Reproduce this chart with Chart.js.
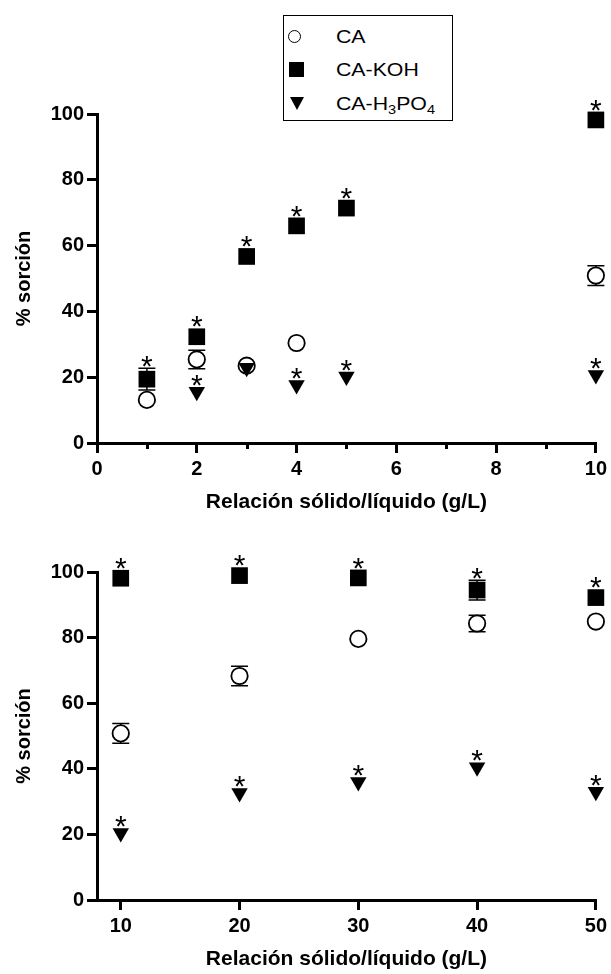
<!DOCTYPE html>
<html>
<head>
<meta charset="utf-8">
<script src="https://cdn.jsdelivr.net/npm/chart.js@4.4.0/dist/chart.umd.min.js"></script>
<style>
  body { margin: 0; background: #fff; }
  #wrap { position: relative; width: 611px; height: 974px; overflow: hidden; font-family: "Liberation Sans", Arial, sans-serif; }
  #top { position: absolute; left: 0; top: 0; }
  #bottom { position: absolute; left: 0; top: 520px; }
  #legend { position: absolute; left: 283px; top: 15px; width: 170px; height: 106px; box-sizing: border-box; border: 1.5px solid #000; background: #fff; }
  .mk { position: absolute; box-sizing: border-box; }
  .circ { width: 13px; height: 13px; border: 1.5px solid #000; border-radius: 50%; background: #fff; }
  .sq { width: 15px; height: 15px; background: #000; }
  .tri { width: 0; height: 0; border-left: 7px solid transparent; border-right: 7px solid transparent; border-top: 13px solid #000; }
  .lbl { position: absolute; font-size: 19px; line-height: 19px; color: #000; white-space: nowrap; transform: scaleX(1.12); transform-origin: left center; }
  .lbl sub { font-size: 13px; vertical-align: -4px; line-height: 0; }
</style>
</head>
<body>
<div id="wrap">
  <canvas id="top" width="611" height="520"></canvas>
  <canvas id="bottom" width="611" height="454"></canvas>
  <div id="legend"></div>
</div>
<script>
const FONT = '"Liberation Sans", Arial, sans-serif';

// Panel 1: 0 - 10 g/L
const xTop = [1, 2, 3, 4, 5, 10];
const caTop = [13.1, 25.4, 23.5, 30.4, null, 50.9];
const caTopErr = [0, 2.8, 0, 0, 0, 3.0];
const kohTop = [19.4, 32.3, 56.7, 66.0, 71.4, 98.2];
const kohTopErr = [3.3, 0, 0, 0, 0, 0];
const h3poTop = [null, 15.6, 22.9, 17.6, 20.2, 20.7];
const kohTopStar = [1, 1, 1, 1, 1, 1];
const h3poTopStar = [0, 1, 0, 1, 1, 1];
const xTopTicks = [0, 2, 4, 6, 8, 10];
const xTopMinor = [1, 3, 5, 7, 9];

// Panel 2: 10 - 50 g/L
const xBot = [10, 20, 30, 40, 50];
const caBot = [50.8, 68.3, 79.6, 84.3, 84.9];
const caBotErr = [3.0, 3.0, 0, 2.5, 0];
const kohBot = [98.1, 98.9, 98.2, 94.5, 92.2];
const kohBotErr = [0, 0, 0, 3.0, 0];
const h3poBot = [20.4, 32.6, 36.0, 40.5, 33.0];
const kohBotStar = [1, 1, 1, 1, 1];
const h3poBotStar = [1, 1, 1, 1, 1];
const xBotTicks = [10, 20, 30, 40, 50];

const yTicks = [0, 20, 40, 60, 80, 100];
const yTitle = '% sorción';
const xTitle = 'Relación sólido/líquido (g/L)';

function pts(xs, ys) {
    return xs.map((x, i) => ({ x: x, y: ys[i] }));
}

// error bars under the markers, asterisks over them, minor ticks on the axis
const marks = {
    id: 'marks',
    beforeDatasetsDraw(chart) {
        const ctx = chart.ctx, ys = chart.scales.y;
        ctx.save();
        ctx.strokeStyle = '#000';
        ctx.lineWidth = 1.5;
        chart.data.datasets.forEach((ds, i) => {
            if (!ds.err) return;
            chart.getDatasetMeta(i).data.forEach((pt, j) => {
                const v = ds.data[j].y, e = ds.err[j];
                if (v == null || !e) return;
                const y1 = ys.getPixelForValue(v + e), y2 = ys.getPixelForValue(v - e);
                ctx.beginPath();
                ctx.moveTo(pt.x, y1); ctx.lineTo(pt.x, y2);
                ctx.moveTo(pt.x - 8.5, y1); ctx.lineTo(pt.x + 8.5, y1);
                ctx.moveTo(pt.x - 8.5, y2); ctx.lineTo(pt.x + 8.5, y2);
                ctx.stroke();
            });
        });
        ctx.restore();
    },
    afterDatasetsDraw(chart) {
        const ctx = chart.ctx, ys = chart.scales.y;
        ctx.save();
        ctx.fillStyle = '#000';
        ctx.font = '30px ' + FONT;
        ctx.textAlign = 'center';
        ctx.textBaseline = 'alphabetic';
        const m = ctx.measureText('*');
        const off = (m.actualBoundingBoxAscent - m.actualBoundingBoxDescent) / 2;
        chart.data.datasets.forEach((ds, i) => {
            if (!ds.star) return;
            chart.getDatasetMeta(i).data.forEach((pt, j) => {
                const v = ds.data[j].y;
                if (v == null || !ds.star[j]) return;
                let top = ds.markTop;
                if (ds.err && ds.err[j]) {
                    top = Math.max(top, pt.y - ys.getPixelForValue(v + ds.err[j]));
                }
                const cy = pt.y - top - 6.5;
                ctx.fillText('*', pt.x, cy + off);
            });
        });
        ctx.restore();
    },
    afterDraw(chart, args, opts) {
        if (!opts.minor) return;
        const ctx = chart.ctx, xs = chart.scales.x;
        const y0 = chart.chartArea.bottom;
        ctx.save();
        ctx.strokeStyle = '#000';
        ctx.lineWidth = 3;
        opts.minor.forEach(v => {
            const px = Math.round(xs.getPixelForValue(v)) + 0.5;
            ctx.beginPath();
            ctx.moveTo(px, y0);
            ctx.lineTo(px, y0 + 6);
            ctx.stroke();
        });
        ctx.restore();
    }
};

function datasets(xs, ca, caErr, koh, kohErr, kohStar, h3, h3Star) {
    return [
        {
            label: 'CA', data: pts(xs, ca), err: caErr, order: 3, clip: false,
            pointStyle: 'circle', pointRadius: 8.2, pointBorderWidth: 1.8,
            pointBackgroundColor: '#fff', pointBorderColor: '#000', markTop: 9
        },
        {
            label: 'CA-KOH', data: pts(xs, koh), err: kohErr, star: kohStar, order: 2, clip: false,
            pointStyle: 'rect', pointRadius: 11.8, pointBorderWidth: 0,
            pointBackgroundColor: '#000', pointBorderColor: '#000', markTop: 8.3
        },
        {
            label: 'CA-H3PO4', data: pts(xs, h3), star: h3Star, order: 1, clip: false,
            pointStyle: 'triangle', pointRotation: 180, pointRadius: 9.5, pointBorderWidth: 0,
            pointBackgroundColor: '#000', pointBorderColor: '#000', markTop: 4.8
        }
    ];
}

function scales(xMin, xMax, xTicks, xAxisH, titlePad) {
    const tickFont = { family: FONT, size: 20, weight: 'bold' };
    return {
        x: {
            type: 'linear', position: 'bottom', min: xMin, max: xMax,
            afterBuildTicks: s => { s.ticks = xTicks.map(v => ({ value: v })); },
            afterFit: s => { s.height = xAxisH; },
            grid: { drawOnChartArea: false, tickLength: 10, lineWidth: 3, color: '#000' },
            border: { width: 3, color: '#000' },
            ticks: { color: '#000', padding: 4, maxRotation: 0, autoSkip: false, font: tickFont },
            title: { display: true, text: xTitle, color: '#000', padding: { bottom: titlePad },
                     font: { family: FONT, size: 21, weight: 'bold' } }
        },
        y: {
            min: 0, max: 100,
            afterBuildTicks: s => { s.ticks = yTicks.map(v => ({ value: v })); },
            afterFit: s => { s.width = 97; },
            grid: { drawOnChartArea: false, tickLength: 10, lineWidth: 3, color: '#000' },
            border: { width: 3, color: '#000' },
            ticks: { color: '#000', padding: 3, font: tickFont },
            title: { display: true, text: yTitle, color: '#000', padding: { top: 12 },
                     font: { family: FONT, size: 20, weight: 'bold' } }
        }
    };
}

// 0 - 10 g/L
new Chart(document.getElementById('top'), {
    type: 'scatter',
    data: { datasets: datasets(xTop, caTop, caTopErr, kohTop, kohTopErr, kohTopStar, h3poTop, h3poTopStar) },
    options: {
        responsive: false, animation: false, events: [],
        layout: { padding: { top: 114, right: 13, left: 0, bottom: 0 } },
        plugins: { legend: { display: false }, tooltip: { enabled: false }, marks: { minor: xTopMinor } },
        scales: scales(0, 10, xTopTicks, 77, 5)
    },
    plugins: [marks]
});

// 10 - 50 g/L
new Chart(document.getElementById('bottom'), {
    type: 'scatter',
    data: { datasets: datasets(xBot, caBot, caBotErr, kohBot, kohBotErr, kohBotStar, h3poBot, h3poBotStar) },
    options: {
        responsive: false, animation: false, events: [],
        layout: { padding: { top: 52, right: 13, left: 0, bottom: 0 } },
        plugins: { legend: { display: false }, tooltip: { enabled: false }, marks: { minor: null } },
        scales: scales(8, 50, xBotTicks, 74, 2)
    },
    plugins: [marks]
});

// legend (HTML so the subscripts stay real text)
const legendRows = [
    { cls: 'circ', w: 13, h: 13, mx: 295, my: 37, html: 'CA' },
    { cls: 'sq', w: 15, h: 15, mx: 297, my: 70, html: 'CA-KOH' },
    { cls: 'tri', w: 14, h: 13, mx: 297, my: 104, html: 'CA-H<sub>3</sub>PO<sub>4</sub>' }
];
const leg = document.getElementById('legend');
legendRows.forEach(r => {
    const mk = document.createElement('div');
    mk.className = 'mk ' + r.cls;
    mk.style.left = (r.mx - r.w / 2 - 284.5) + 'px';
    mk.style.top = (r.my - r.h / 2 - 16.5) + 'px';
    leg.appendChild(mk);
    const lb = document.createElement('div');
    lb.className = 'lbl';
    lb.innerHTML = r.html;
    lb.style.left = (336 - 284.5) + 'px';
    lb.style.top = (r.my - 9.5 - 16.5) + 'px';
    leg.appendChild(lb);
});
</script>
</body>
</html>
